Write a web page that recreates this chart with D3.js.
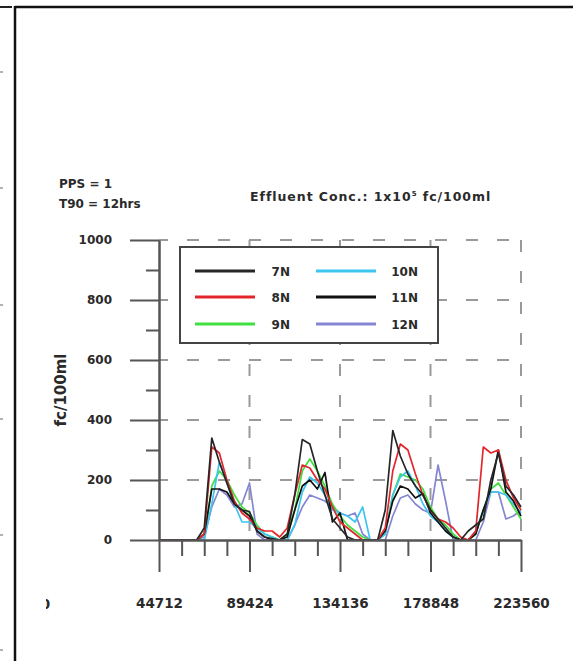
<!DOCTYPE html>
<html>
<head>
<meta charset="utf-8">
<script src="https://cdn.jsdelivr.net/npm/d3@7"></script>
<style>
  html, body { margin: 0; padding: 0; background: #fff; }
  svg { display: block; }
  text { font-family: "DejaVu Sans", sans-serif; font-weight: bold; fill: #2a2a2a; }
</style>
</head>
<body>
<svg id="chart" width="573" height="661"></svg>
<script>
// ---- data ----
const times = [44712, 48438, 52164, 55890, 59616, 63342, 67068, 70794, 74520, 78246, 81972, 85698,
  89424, 93150, 96876, 100602, 104328, 108054, 111780, 115506, 119232, 122958, 126684, 130410,
  134136, 137862, 141588, 145314, 149040, 152766, 156492, 160218, 163944, 167670, 171396, 175122,
  178848, 182574, 186300, 190026, 193752, 197478, 201204, 204930, 208656, 212382, 216108, 219834, 223560];

const s7N  = [0,0,0,0,0,0,40,340,260,190,120,100, 95,30,10,5,0,20,150,335,320,230,150,70, 40,10,0,0,0,0,100,365,280,220,180,150, 100,70,40,10,0,30,50,70,200,290,180,150,110];
const s8N  = [0,0,0,0,0,0,20,310,290,200,130,90, 70,40,30,30,10,40,150,250,240,200,170,110, 60,40,20,0,0,0,40,230,320,300,220,150, 100,70,60,40,10,0,30,310,290,300,200,140,100];
const s9N  = [0,0,0,0,0,0,0,180,230,200,150,110, 90,50,20,10,0,20,100,230,270,230,180,120, 80,50,30,10,0,0,20,150,220,210,200,170, 110,70,50,20,0,0,20,100,170,190,150,110,70];
const s10N = [0,0,0,0,0,0,0,120,260,190,120,60, 60,40,20,10,0,0,50,160,210,190,150,100, 90,80,60,110,0,0,20,150,210,230,180,120, 80,60,30,10,0,0,30,100,160,160,150,120,90];
const s11N = [0,0,0,0,0,0,20,170,170,160,120,100, 80,30,10,0,0,10,100,180,200,170,225,60, 90,0,0,0,0,0,30,130,180,170,140,155, 90,60,30,10,0,0,20,100,170,300,160,130,80];
const s12N = [0,0,0,0,0,0,10,110,170,150,110,120, 190,20,0,0,0,0,50,110,150,140,130,110, 90,80,90,20,0,0,0,80,140,150,120,100, 90,250,130,0,0,0,0,60,160,160,70,80,100];

const seriesNames  = ["7N", "8N", "9N", "10N", "11N", "12N"];
const seriesColors = ["#262626", "#e3262b", "#3fe03f", "#3cc6ef", "#111111", "#8585d3"];
const seriesValues = [s7N, s8N, s9N, s10N, s11N, s12N];

const yMajorTicks = [0, 200, 400, 600, 800, 1000];
const yMinorTicks = [100, 300, 500, 700, 900];
const xMajorTicks = [44712, 89424, 134136, 178848, 223560];
const xMinorTicks = [55890, 67068, 78246, 100602, 111780, 122958, 145314, 156492, 167670, 190026, 201204, 212382];
const gridY = [200, 400, 600, 800, 1000];
const gridX = [89424, 134136, 178848, 223560];

// ---- drawing ----
const svg = d3.select("#chart");
const x = d3.scaleLinear().domain([44712, 223560]).range([159, 521]);
const y = d3.scaleLinear().domain([0, 1000]).range([540, 240]);
const axisColor = "#555";

// page frame (cropped panel borders)
svg.append("line").attr("x1", 0).attr("x2", 12).attr("y1", 7).attr("y2", 7).attr("stroke", "#222").attr("stroke-width", 2);
svg.append("line").attr("x1", 15).attr("x2", 573).attr("y1", 7).attr("y2", 7).attr("stroke", "#111").attr("stroke-width", 2.5);
svg.append("line").attr("x1", 15).attr("x2", 15).attr("y1", 6).attr("y2", 661).attr("stroke", "#111").attr("stroke-width", 2.5);
[72, 188, 305, 419, 535, 650].forEach(v => {
  svg.append("line").attr("x1", 0).attr("x2", 3).attr("y1", v).attr("y2", v).attr("stroke", "#999").attr("stroke-width", 1.5);
});

// grid
const grid = svg.append("g").attr("stroke", "#9a9a9a").attr("stroke-width", 2).attr("stroke-dasharray", "12,19");
grid.selectAll("line.h").data(gridY).enter().append("line")
  .attr("x1", x(44712)).attr("x2", x(223560)).attr("y1", d => y(d)).attr("y2", d => y(d))
  .attr("stroke-dashoffset", -28);
grid.selectAll("line.v").data(gridX).enter().append("line")
  .attr("x1", d => x(d)).attr("x2", d => x(d)).attr("y1", y(1000)).attr("y2", y(0));

// series lines
const line = d3.line().x((d, i) => x(times[i])).y(d => y(d));
const drawOrder = [5, 2, 3, 4, 1, 0];
drawOrder.forEach(k => {
  svg.append("path").datum(seriesValues[k])
    .attr("fill", "none").attr("stroke", seriesColors[k]).attr("stroke-width", 1.7)
    .attr("stroke-linejoin", "round").attr("d", line);
});

// axes
function styleAxis(g) {
  g.selectAll("path, line").attr("stroke", axisColor).attr("stroke-width", 2);
  g.selectAll("text").attr("fill", "#2a2a2a").attr("font-family", "DejaVu Sans").attr("font-weight", "bold");
}
const yAxis = svg.append("g").attr("transform", `translate(${x(44712)},0)`)
  .call(d3.axisLeft(y).tickValues(yMajorTicks).tickSize(29).tickSizeOuter(0).tickPadding(18).tickFormat(d3.format("d")));
yAxis.call(styleAxis);
yAxis.selectAll("text").attr("font-size", 12);
const yMinor = svg.append("g").attr("transform", `translate(${x(44712)},0)`)
  .call(d3.axisLeft(y).tickValues(yMinorTicks).tickSize(13).tickSizeOuter(0).tickFormat(""));
yMinor.call(styleAxis);

const xAxis = svg.append("g").attr("transform", `translate(0,${y(0)})`)
  .call(d3.axisBottom(x).tickValues(xMajorTicks).tickSize(32).tickSizeOuter(0).tickPadding(26).tickFormat(d3.format("d")));
xAxis.call(styleAxis);
xAxis.selectAll("text").attr("font-size", 13.5);
const xMinor = svg.append("g").attr("transform", `translate(0,${y(0)})`)
  .call(d3.axisBottom(x).tickValues(xMinorTicks).tickSize(16).tickSizeOuter(0).tickFormat(""));
xMinor.call(styleAxis);

// cut-off label at far left
svg.append("clipPath").attr("id", "cut").append("rect").attr("x", 46).attr("y", 590).attr("width", 20).attr("height", 30);
svg.append("text").attr("x", 45.5).attr("y", 609).attr("text-anchor", "middle").attr("font-size", 13.5)
  .attr("clip-path", "url(#cut)").text("0");

// y label
svg.append("text").attr("transform", "translate(66,390) rotate(-90)").attr("text-anchor", "middle")
  .attr("font-size", 15).text("fc/100ml");

// annotations
svg.append("text").attr("x", 59).attr("y", 188).attr("font-size", 12).text("PPS = 1");
svg.append("text").attr("x", 59).attr("y", 208).attr("font-size", 12).text("T90 = 12hrs");
const eff = svg.append("text").attr("x", 250).attr("y", 201).attr("font-size", 12.5).attr("letter-spacing", 0.95);
eff.append("tspan").text("Effluent Conc.: 1x10");
eff.append("tspan").attr("font-size", 7).attr("dy", -5).text("5");
eff.append("tspan").attr("dy", 5).text(" fc/100ml");

// legend
const legend = svg.append("g");
legend.append("rect").attr("x", 180).attr("y", 247).attr("width", 258).attr("height", 96)
  .attr("fill", "#fff").attr("stroke", "#444").attr("stroke-width", 2);
const legRows = [271, 297, 324];
seriesNames.forEach((name, i) => {
  const col = Math.floor(i / 3), row = i % 3;
  const lx = col === 0 ? 195 : 316;
  const tx = col === 0 ? 290 : 418;
  legend.append("line").attr("x1", lx).attr("x2", lx + 60).attr("y1", legRows[row]).attr("y2", legRows[row])
    .attr("stroke", seriesColors[i]).attr("stroke-width", 3);
  legend.append("text").attr("x", tx).attr("y", legRows[row] + 4.5).attr("text-anchor", "end")
    .attr("font-size", 12).text(name);
});
</script>
</body>
</html>
